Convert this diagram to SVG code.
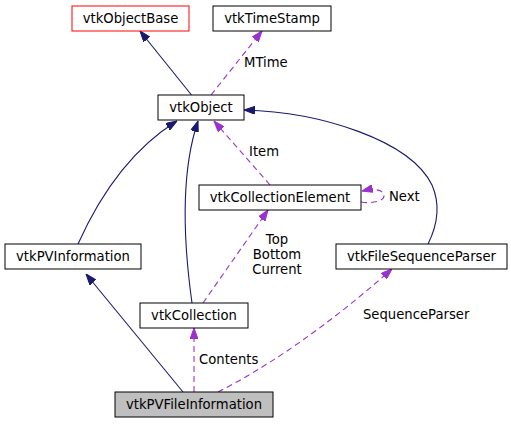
<svg xmlns="http://www.w3.org/2000/svg" width="511" height="424" viewBox="0 0 511 424">
<style>
text{font-family:"DejaVu Sans",sans-serif;font-size:13.2px;fill:#000}
.n{text-anchor:middle}
.box{fill:#fff;stroke:#000;stroke-width:1}
.s{fill:none;stroke:#191970;stroke-width:1.1}
.d{fill:none;stroke:#9a32cd;stroke-width:1.1;stroke-dasharray:6,4}
</style>
<defs>
<marker id="ab" viewBox="0 0 11 8" refX="11" refY="4" markerWidth="11" markerHeight="8" markerUnits="userSpaceOnUse" orient="auto"><path d="M0,0 L11,4 L0,8 z" fill="#191970" stroke="#191970"/></marker>
<marker id="ap" viewBox="0 0 11 8" refX="11" refY="4" markerWidth="11" markerHeight="8" markerUnits="userSpaceOnUse" orient="auto"><path d="M0,0 L11,4 L0,8 z" fill="#9a32cd" stroke="#9a32cd"/></marker>
</defs>
<g id="edges">
<path class="s" d="M191.5,95 L140,31" marker-end="url(#ab)"/>
<path class="d" d="M211,95 L262,31" marker-end="url(#ap)"/>
<path class="s" d="M428,244 C436,228 442,208 432,185 C410,140 320,112 244,110" marker-end="url(#ab)"/>
<path class="s" d="M78,244 C100,195 130,150 177,121" marker-end="url(#ab)"/>
<path class="s" d="M192,303 C186,260 178,180 198,121" marker-end="url(#ab)"/>
<path class="d" d="M270,185 L214,121" marker-end="url(#ap)"/>
<path class="d" d="M361,202 C372,204 384,201 384,196 C384,190 375,188 362,191" marker-end="url(#ap)"/>
<path class="d" d="M203,303 L268,210" marker-end="url(#ap)"/>
<path class="s" d="M183,392 L86,274" marker-end="url(#ab)"/>
<path class="d" d="M194,392 L194,328" marker-end="url(#ap)"/>
<path class="d" d="M218,392 Q300,350 392,269" marker-end="url(#ap)"/>
<text x="244" y="67">MTime</text>
<text x="249" y="156">Item</text>
<text x="389" y="201">Next</text>
<text class="n" x="277" y="244">Top</text>
<text class="n" x="277" y="259">Bottom</text>
<text class="n" x="277" y="274">Current</text>
<text x="199" y="364">Contents</text>
<text x="363" y="319">SequenceParser</text>
</g>
<g id="vtkObjectBase"><rect class="box" x="72" y="6" width="117" height="25" style="stroke:#ff0000"/><text class="n" x="130.5" y="23">vtkObjectBase</text></g>
<g id="vtkTimeStamp"><rect class="box" x="213" y="6" width="118" height="25"/><text class="n" x="272" y="23">vtkTimeStamp</text></g>
<g id="vtkObject"><rect class="box" x="158" y="95" width="86" height="25"/><text class="n" x="201" y="112">vtkObject</text></g>
<g id="vtkCollectionElement"><rect class="box" x="199" y="185" width="162" height="25"/><text class="n" x="280" y="202">vtkCollectionElement</text></g>
<g id="vtkPVInformation"><rect class="box" x="5" y="244" width="136" height="25"/><text class="n" x="73" y="261">vtkPVInformation</text></g>
<g id="vtkFileSequenceParser"><rect class="box" x="336" y="244" width="171" height="25"/><text class="n" x="421.5" y="261">vtkFileSequenceParser</text></g>
<g id="vtkCollection"><rect class="box" x="140" y="303" width="108" height="25"/><text class="n" x="194" y="320">vtkCollection</text></g>
<g id="vtkPVFileInformation"><rect class="box" x="115" y="392" width="158" height="25" style="fill:#bfbfbf"/><text class="n" x="194" y="409">vtkPVFileInformation</text></g>
</svg>
